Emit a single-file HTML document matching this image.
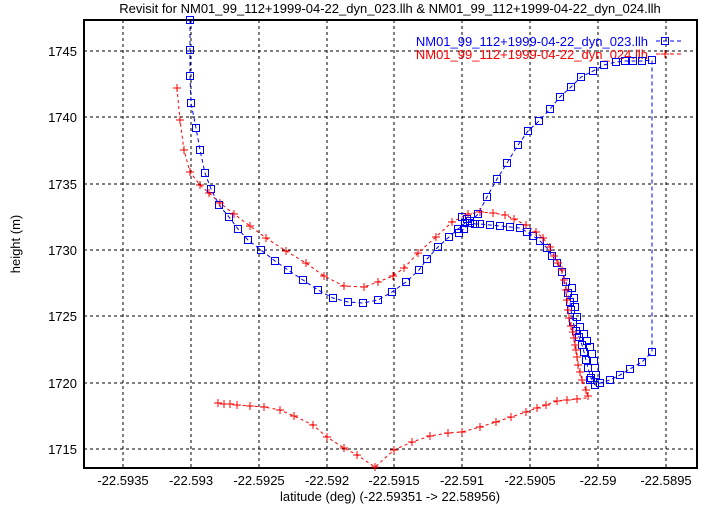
<!DOCTYPE html>
<html><head><style>body{margin:0;background:#fff}svg{display:block}text{font-family:"Liberation Sans",sans-serif}</style></head><body>
<svg width="721" height="505" viewBox="0 0 721 505" xmlns="http://www.w3.org/2000/svg">
<text x="390" y="13" font-size="13" text-anchor="middle">Revisit for NM01_99_112+1999-04-22_dyn_023.llh &amp; NM01_99_112+1999-04-22_dyn_024.llh</text>
<g stroke="#000" stroke-dasharray="3,3" stroke-width="1">
<path d="M123 20V468M191 20V468M259 20V468M327 20V468M394 20V468M462 20V468M530 20V468M598 20V468M666 20V468"/>
<path d="M84 51H697M84 117H697M84 184H697M84 250H697M84 316H697M84 383H697M84 449H697"/>
</g>
<rect x="84" y="20" width="613" height="448" fill="none" stroke="#000" stroke-width="2"/>
<g font-size="13" text-anchor="end">
<text x="77" y="56">1745</text><text x="77" y="122">1740</text><text x="77" y="189">1735</text><text x="77" y="255">1730</text><text x="77" y="321">1725</text><text x="77" y="388">1720</text><text x="77" y="454">1715</text>
</g>
<g font-size="13" text-anchor="middle">
<text x="123" y="485">-22.5935</text><text x="191" y="485">-22.593</text><text x="259" y="485">-22.5925</text><text x="327" y="485">-22.592</text><text x="394" y="485">-22.5915</text><text x="462" y="485">-22.591</text><text x="530" y="485">-22.5905</text><text x="598" y="485">-22.59</text><text x="666" y="485">-22.5895</text>
<text x="390" y="501">latitude (deg) (-22.59351 -&gt; 22.58956)</text>
<text x="20" y="244" transform="rotate(-90 20 244)">height (m)</text>
</g>
<text x="648" y="46" font-size="13" fill="#00f" text-anchor="end">NM01_99_112+1999-04-22_dyn_023.llh</text>
<text x="648" y="59" font-size="13" fill="#f00" text-anchor="end">NM01_99_112+1999-04-22_dyn_024.llh</text>
<path d="M656 41H682" stroke="#00f" stroke-dasharray="4,3"/><rect x="661.5" y="37.5" width="7" height="7" fill="none" stroke="#00f"/>
<path d="M656 54H682" stroke="#f00" stroke-dasharray="4,3"/><path d="M661 54H669M665 50V58" stroke="#f00"/>
<polyline fill="none" stroke="#f00" stroke-dasharray="3,3" points="177,88 180,120 184,150 190,172 200,185 209,193 220,203 234,214 250,226 266,238 286,251 306,263 324,276 344,286 364,287 378,282 393,276 404,268 418,253 436,237 452,222 468,214 480,212 493,213 505,215 514,219 526,225 536,232 543,238 550,247 554,256 558,263 562,270 564,280 566,290 567,300 568,310 569,318 571,326 573,332 574,338 575,345 576,350 577,357 578,365 580,372 582,380 586,390 588,396 586,398 577,399 567,400 557,401 546,405 537,408 526,412 511,417 496,422 480,427 462,432 448,433 430,436 412,442 394,450 375,467 357,455 344,448 327,437 313,425 294,416 280,410 264,407 250,406 237,405 230,404 224,404 218,403"/>
<polyline fill="none" stroke="#00f" stroke-dasharray="4,3" points="190,20 190,50 190,76 191,103 196,128 200,150 205,173 211,189 219,205 229,217 238,229 248,240 261,250 275,261 288,270 303,280 318,290 333,298 348,302 363,303 378,300 392,292 406,282 419,270 427,259 438,247 449,237 458,229 465,223 470,221 475,224 480,224 490,225 500,226 510,227 520,228 527,232 533,236 540,241 547,248 552,256 557,263 562,272 566,282 568,293 570,302 571,310 573,322 576,331 579,337 582,345 584,352 586,360 588,368 591,378 595,385 600,383 610,380 620,375 630,369 642,362 652,352 652,60 642,61 633,61 625,61 616,62 604,65 593,71 581,77 571,87 560,97 550,109 539,121 528,131 518,145 507,163 497,179 487,197 478,214 470,223 464,229 459,233"/>
<path fill="none" stroke="#00f" d="M186.5 16.5h7v7h-7zM186.5 46.5h7v7h-7zM186.5 72.5h7v7h-7zM187.5 99.5h7v7h-7zM192.5 124.5h7v7h-7zM196.5 146.5h7v7h-7zM201.5 169.5h7v7h-7zM207.5 185.5h7v7h-7zM215.5 201.5h7v7h-7zM225.5 213.5h7v7h-7zM234.5 225.5h7v7h-7zM244.5 236.5h7v7h-7zM257.5 246.5h7v7h-7zM271.5 257.5h7v7h-7zM284.5 266.5h7v7h-7zM299.5 276.5h7v7h-7zM314.5 286.5h7v7h-7zM329.5 294.5h7v7h-7zM344.5 298.5h7v7h-7zM359.5 299.5h7v7h-7zM374.5 296.5h7v7h-7zM388.5 288.5h7v7h-7zM402.5 278.5h7v7h-7zM415.5 266.5h7v7h-7zM423.5 255.5h7v7h-7zM434.5 243.5h7v7h-7zM445.5 233.5h7v7h-7zM454.5 225.5h7v7h-7zM461.5 219.5h7v7h-7zM466.5 217.5h7v7h-7zM471.5 220.5h7v7h-7zM476.5 220.5h7v7h-7zM486.5 221.5h7v7h-7zM496.5 222.5h7v7h-7zM506.5 223.5h7v7h-7zM516.5 224.5h7v7h-7zM523.5 228.5h7v7h-7zM529.5 232.5h7v7h-7zM536.5 237.5h7v7h-7zM543.5 244.5h7v7h-7zM548.5 252.5h7v7h-7zM553.5 259.5h7v7h-7zM558.5 268.5h7v7h-7zM562.5 278.5h7v7h-7zM564.5 289.5h7v7h-7zM566.5 298.5h7v7h-7zM567.5 306.5h7v7h-7zM569.5 318.5h7v7h-7zM572.5 327.5h7v7h-7zM575.5 333.5h7v7h-7zM578.5 341.5h7v7h-7zM580.5 348.5h7v7h-7zM582.5 356.5h7v7h-7zM584.5 364.5h7v7h-7zM587.5 374.5h7v7h-7zM591.5 381.5h7v7h-7zM596.5 379.5h7v7h-7zM606.5 376.5h7v7h-7zM616.5 371.5h7v7h-7zM626.5 365.5h7v7h-7zM638.5 358.5h7v7h-7zM648.5 348.5h7v7h-7zM648.5 56.5h7v7h-7zM638.5 57.5h7v7h-7zM629.5 57.5h7v7h-7zM621.5 57.5h7v7h-7zM612.5 58.5h7v7h-7zM600.5 61.5h7v7h-7zM589.5 67.5h7v7h-7zM577.5 73.5h7v7h-7zM567.5 83.5h7v7h-7zM556.5 93.5h7v7h-7zM546.5 105.5h7v7h-7zM535.5 117.5h7v7h-7zM524.5 127.5h7v7h-7zM514.5 141.5h7v7h-7zM503.5 159.5h7v7h-7zM493.5 175.5h7v7h-7zM483.5 193.5h7v7h-7zM474.5 210.5h7v7h-7zM466.5 219.5h7v7h-7zM460.5 225.5h7v7h-7zM455.5 229.5h7v7h-7zM568.5 284.5h7v7h-7zM570.5 294.5h7v7h-7zM571.5 303.5h7v7h-7zM573.5 313.5h7v7h-7zM576.5 323.5h7v7h-7zM580.5 330.5h7v7h-7zM583.5 337.5h7v7h-7zM586.5 343.5h7v7h-7zM588.5 350.5h7v7h-7zM590.5 357.5h7v7h-7zM591.5 364.5h7v7h-7zM592.5 371.5h7v7h-7zM586.5 376.5h7v7h-7zM458.5 213.5h7v7h-7zM463.5 215.5h7v7h-7z"/>
<path fill="none" stroke="#f00" d="M173 88h8m-4-4v8M176 120h8m-4-4v8M180 150h8m-4-4v8M186 172h8m-4-4v8M196 185h8m-4-4v8M205 193h8m-4-4v8M216 203h8m-4-4v8M230 214h8m-4-4v8M246 226h8m-4-4v8M262 238h8m-4-4v8M282 251h8m-4-4v8M302 263h8m-4-4v8M320 276h8m-4-4v8M340 286h8m-4-4v8M360 287h8m-4-4v8M374 282h8m-4-4v8M389 276h8m-4-4v8M400 268h8m-4-4v8M414 253h8m-4-4v8M432 237h8m-4-4v8M448 222h8m-4-4v8M464 214h8m-4-4v8M476 212h8m-4-4v8M489 213h8m-4-4v8M501 215h8m-4-4v8M510 219h8m-4-4v8M522 225h8m-4-4v8M532 232h8m-4-4v8M539 238h8m-4-4v8M546 247h8m-4-4v8M550 256h8m-4-4v8M554 263h8m-4-4v8M558 270h8m-4-4v8M560 280h8m-4-4v8M562 290h8m-4-4v8M563 300h8m-4-4v8M564 310h8m-4-4v8M565 318h8m-4-4v8M567 326h8m-4-4v8M569 332h8m-4-4v8M570 338h8m-4-4v8M571 345h8m-4-4v8M572 350h8m-4-4v8M573 357h8m-4-4v8M574 365h8m-4-4v8M576 372h8m-4-4v8M578 380h8m-4-4v8M582 390h8m-4-4v8M584 396h8m-4-4v8M573 399h8m-4-4v8M563 400h8m-4-4v8M553 401h8m-4-4v8M542 405h8m-4-4v8M533 408h8m-4-4v8M522 412h8m-4-4v8M507 417h8m-4-4v8M492 422h8m-4-4v8M476 427h8m-4-4v8M458 432h8m-4-4v8M444 433h8m-4-4v8M426 436h8m-4-4v8M408 442h8m-4-4v8M390 450h8m-4-4v8M371 467h8m-4-4v8M353 455h8m-4-4v8M340 448h8m-4-4v8M323 437h8m-4-4v8M309 425h8m-4-4v8M290 416h8m-4-4v8M276 410h8m-4-4v8M260 407h8m-4-4v8M246 406h8m-4-4v8M233 405h8m-4-4v8M226 404h8m-4-4v8M220 404h8m-4-4v8M214 403h8m-4-4v8"/>
</svg>
</body></html>
